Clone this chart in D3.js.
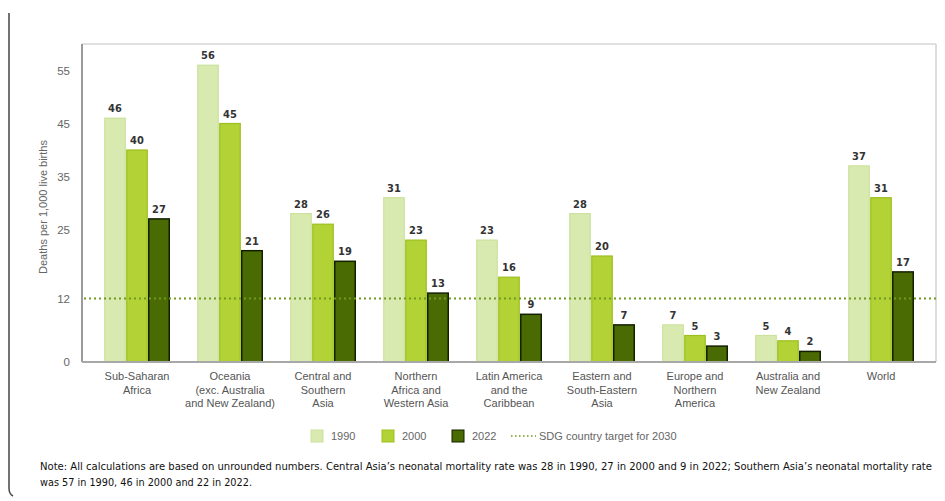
<!DOCTYPE html>
<html>
<head>
<meta charset="utf-8">
<script src="https://cdn.jsdelivr.net/npm/d3@7"></script>
<style>
  html, body { margin: 0; padding: 0; background: #fff; }
  svg { display: block; }
</style>
</head>
<body>
<svg id="chart" width="945" height="501"></svg>
<script>
const categories = [
  ["Sub-Saharan", "Africa"],
  ["Oceania", "(exc. Australia", "and New Zealand)"],
  ["Central and", "Southern", "Asia"],
  ["Northern", "Africa and", "Western Asia"],
  ["Latin America", "and the", "Caribbean"],
  ["Eastern and", "South-Eastern", "Asia"],
  ["Europe and", "Northern", "America"],
  ["Australia and", "New Zealand"],
  ["World"]
];
const seriesNames = ["1990", "2000", "2022"];
const values1990 = [46, 56, 28, 31, 23, 28, 7, 5, 37];
const values2000 = [40, 45, 26, 23, 16, 20, 5, 4, 31];
const values2022 = [27, 21, 19, 13, 9, 7, 3, 2, 17];
const yTicks = [0, 12, 25, 35, 45, 55];
const targetValue = 12;
const targetLabel = "SDG country target for 2030";
const yTitle = "Deaths per 1,000 live births";
const noteLines = [
  "Note: All calculations are based on unrounded numbers. Central Asia\u2019s neonatal mortality rate was 28 in 1990, 27 in 2000 and 9 in 2022; Southern Asia\u2019s neonatal mortality rate",
  "was 57 in 1990, 46 in 2000 and 22 in 2022."
];

const fills = ["#d9eab0", "#b3d236", "#4a6a03"];
const strokes = ["#cbe19c", "#9dbf1f", "#132000"];

const svg = d3.select("#chart");
const plot = { left: 82, right: 936, top: 44, bottom: 362 };

const catKeys = categories.map(c => c.join(" "));
const x = d3.scaleBand().domain(catKeys).range([90.5, 927.5]).paddingInner(0).paddingOuter(0);
const xs = d3.scaleBand().domain(seriesNames)
  .range([x.bandwidth() / 2 - 33, x.bandwidth() / 2 + 33]).padding(0);
const y = d3.scaleLinear().domain([0, 60]).range([plot.bottom, plot.bottom - 60 * 5.3]);

const condensed = "'DejaVu Sans Condensed', 'DejaVu Sans', sans-serif";

// outer frame line
svg.append("path")
  .attr("d", "M9,13 L9,488 Q9,494 13,496")
  .attr("fill", "none").attr("stroke", "#444").attr("stroke-width", 1.5);

// plot box
svg.append("line").attr("x1", plot.left).attr("x2", plot.right).attr("y1", plot.top).attr("y2", plot.top)
  .attr("stroke", "#e0e0e0").attr("stroke-width", 2);
svg.append("line").attr("x1", plot.right).attr("x2", plot.right).attr("y1", plot.top).attr("y2", plot.bottom)
  .attr("stroke", "#dcdcdc").attr("stroke-width", 2);

// y axis
const yAxis = d3.axisLeft(y).tickValues(yTicks).tickSize(0).tickPadding(0);
const yg = svg.append("g").attr("transform", `translate(${plot.left - 12},0)`).call(yAxis);
yg.select(".domain").remove();
yg.selectAll("text")
  .attr("font-family", "Liberation Sans, Arial, sans-serif")
  .attr("font-size", 11.5).attr("fill", "#666");

svg.append("line").attr("x1", plot.left).attr("x2", plot.left).attr("y1", plot.top).attr("y2", plot.bottom)
  .attr("stroke", "#9a9a9a").attr("stroke-width", 2);

svg.append("text")
  .attr("transform", `translate(47,207) rotate(-90)`)
  .attr("text-anchor", "middle")
  .attr("font-family", "Liberation Sans, Arial, sans-serif")
  .attr("font-size", 11).attr("fill", "#666")
  .text(yTitle);

// bars
const data = catKeys.map((k, i) => ({
  key: k,
  vals: [values1990[i], values2000[i], values2022[i]]
}));

const groups = svg.append("g").selectAll("g").data(data).join("g")
  .attr("transform", d => `translate(${x(d.key)},0)`);

groups.selectAll("rect").data(d => d.vals.map((v, j) => ({ v, s: seriesNames[j], j })))
  .join("rect")
  .attr("x", d => xs(d.s) + 0.75)
  .attr("width", xs.bandwidth() - 1.5)
  .attr("y", d => y(d.v))
  .attr("height", d => plot.bottom - y(d.v))
  .attr("fill", d => fills[d.j])
  .attr("stroke", d => strokes[d.j])
  .attr("stroke-width", d => d.j === 2 ? 1.5 : 1.2);

groups.selectAll("text.val").data(d => d.vals.map((v, j) => ({ v, s: seriesNames[j], j })))
  .join("text").attr("class", "val")
  .attr("x", d => xs(d.s) + xs.bandwidth() / 2)
  .attr("y", d => y(d.v) - 6)
  .attr("text-anchor", "middle")
  .attr("font-family", condensed)
  .attr("font-stretch", "condensed")
  .attr("font-weight", "bold")
  .attr("font-size", 11).attr("fill", "#333")
  .text(d => d.v);

// bottom axis line
svg.append("line").attr("x1", plot.left).attr("x2", plot.right).attr("y1", plot.bottom).attr("y2", plot.bottom)
  .attr("stroke", "#a8a8a8").attr("stroke-width", 2);

// target line
svg.append("line")
  .attr("x1", plot.left + 2).attr("x2", plot.right)
  .attr("y1", y(targetValue)).attr("y2", y(targetValue))
  .attr("stroke", "#6f9a1e").attr("stroke-width", 2).attr("stroke-dasharray", "2,3");

// category labels
const xAxisG = svg.append("g");
categories.forEach((lines, i) => {
  const cx = x(catKeys[i]) + x.bandwidth() / 2;
  const t = xAxisG.append("text")
    .attr("x", cx)
    .attr("y", 380)
    .attr("text-anchor", "middle")
    .attr("font-family", "Liberation Sans, Arial, sans-serif")
    .attr("font-size", 11).attr("fill", "#555");
  lines.forEach((ln, k) => {
    t.append("tspan").attr("x", cx).attr("dy", k === 0 ? 0 : 13.5).text(ln);
  });
});

// legend
const legend = svg.append("g");
const legX = [311, 382, 452];
seriesNames.forEach((s, j) => {
  legend.append("rect").attr("x", legX[j]).attr("y", 430).attr("width", 12).attr("height", 12)
    .attr("fill", fills[j]).attr("stroke", strokes[j]).attr("stroke-width", 1);
  legend.append("text").attr("x", legX[j] + 20).attr("y", 440)
    .attr("font-family", "Liberation Sans, Arial, sans-serif")
    .attr("font-size", 11).attr("fill", "#666").text(s);
});
legend.append("line").attr("x1", 511).attr("x2", 536).attr("y1", 436).attr("y2", 436)
  .attr("stroke", "#6f9a1e").attr("stroke-width", 1.5).attr("stroke-dasharray", "1.5,2.5");
legend.append("text").attr("x", 539).attr("y", 440)
  .attr("font-family", "Liberation Sans, Arial, sans-serif")
  .attr("font-size", 11).attr("fill", "#666").text(targetLabel);

// note
const noteLens = [892, 212];
noteLines.forEach((ln, i) => {
  svg.append("text").attr("x", 40).attr("y", 470 + i * 16)
    .attr("font-family", condensed)
    .attr("font-stretch", "condensed")
    .attr("font-size", 11).attr("fill", "#111")
    .attr("textLength", noteLens[i]).attr("lengthAdjust", "spacingAndGlyphs")
    .text(ln);
});
</script>
</body>
</html>
